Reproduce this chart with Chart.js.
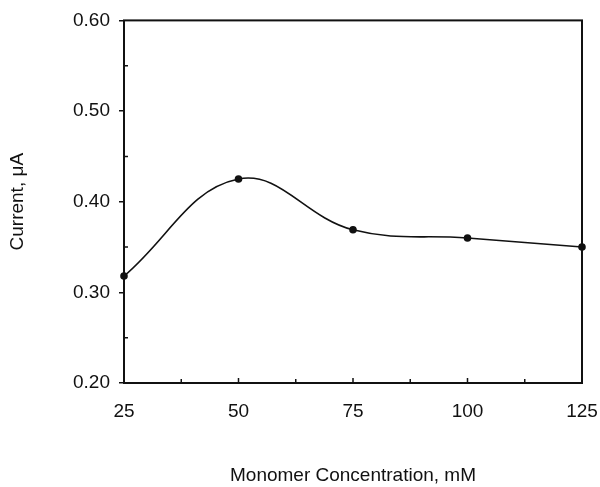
<!DOCTYPE html>
<html>
<head>
<meta charset="utf-8">
<script src="https://cdn.jsdelivr.net/npm/chart.js@4/dist/chart.umd.min.js"></script>
<style>
  html, body { margin: 0; padding: 0; background: #fff; }
  #wrap { width: 600px; height: 487px; }
</style>
</head>
<body>
<div id="wrap"><canvas id="chart"></canvas></div>
<script>
  "use strict";

  // data
  var concentrations = [25, 50, 75, 100, 125];
  var currents = [0.318, 0.425, 0.369, 0.360, 0.350];
  var yTicks = [0.20, 0.30, 0.40, 0.50, 0.60];
  var xTicks = [25, 50, 75, 100, 125];

  var ink = "#111";
  var fontFamily = "'Liberation Sans', Arial, sans-serif";

  // box frame + small inner minor ticks
  var framePlugin = {
    id: "frame",
    afterDraw: function(chart) {
      var ctx = chart.ctx, a = chart.chartArea;
      var xs = chart.scales.x, ys = chart.scales.y;
      ctx.save();
      ctx.strokeStyle = ink;
      ctx.lineWidth = 2;
      ctx.strokeRect(a.left, a.top, a.right - a.left, a.bottom - a.top);
      ctx.lineWidth = 1.5;
      ctx.beginPath();
      for (var i = 0; i < xTicks.length - 1; i++) {
        var xm = xs.getPixelForValue((xTicks[i] + xTicks[i + 1]) / 2);
        ctx.moveTo(xm, a.bottom);
        ctx.lineTo(xm, a.bottom - 4);
        var xM = xs.getPixelForValue(xTicks[i + 1]);
        ctx.moveTo(xM, a.bottom);
        ctx.lineTo(xM, a.bottom - 5);
      }
      for (var j = 0; j < yTicks.length - 1; j++) {
        var ym = ys.getPixelForValue((yTicks[j] + yTicks[j + 1]) / 2);
        ctx.moveTo(a.left, ym);
        ctx.lineTo(a.left + 4, ym);
      }
      ctx.stroke();
      ctx.restore();
    }
  };

  new Chart(document.getElementById("chart"), {
    type: "line",
    data: {
      datasets: [{
        data: concentrations.map(function(c, i) { return { x: c, y: currents[i] }; }),
        borderColor: ink,
        backgroundColor: ink,
        borderWidth: 1.6,
        pointRadius: 3,
        pointHoverRadius: 3,
        tension: 0.4,
        clip: false
      }]
    },
    options: {
      responsive: true,
      maintainAspectRatio: false,
      animation: false,
      layout: { padding: { left: 0, right: 0, top: 19, bottom: 0 } },
      plugins: {
        legend: { display: false },
        tooltip: { enabled: false }
      },
      scales: {
        x: {
          type: "linear",
          min: 25,
          max: 125,
          afterBuildTicks: function(s) {
            s.ticks = xTicks.map(function(v) { return { value: v }; });
          },
          afterFit: function(s) { s.height = 104; s.paddingRight = 18; },
          grid: { display: false, drawTicks: false },
          border: { display: false },
          ticks: {
            color: ink,
            padding: 17,
            maxRotation: 0,
            font: { family: fontFamily, size: 19 }
          },
          title: {
            display: true,
            text: "Monomer Concentration, mM",
            color: ink,
            padding: { top: 0, bottom: 0 },
            font: { family: fontFamily, size: 19 }
          }
        },
        y: {
          min: 0.2,
          max: 0.6,
          afterBuildTicks: function(s) {
            s.ticks = yTicks.map(function(v) { return { value: v }; });
          },
          afterFit: function(s) { s.width = 124; },
          grid: { drawOnChartArea: false, drawTicks: true, tickLength: 5, color: ink, lineWidth: 1.5 },
          border: { display: false },
          ticks: {
            color: ink,
            padding: 9,
            font: { family: fontFamily, size: 19 },
            callback: function(v) { return Number(v).toFixed(2); }
          },
          title: {
            display: true,
            text: "Current, \u03bcA",
            color: ink,
            padding: { top: 6, bottom: 0 },
            font: { family: fontFamily, size: 19 }
          }
        }
      }
    },
    plugins: [framePlugin]
  });
</script>
</body>
</html>
